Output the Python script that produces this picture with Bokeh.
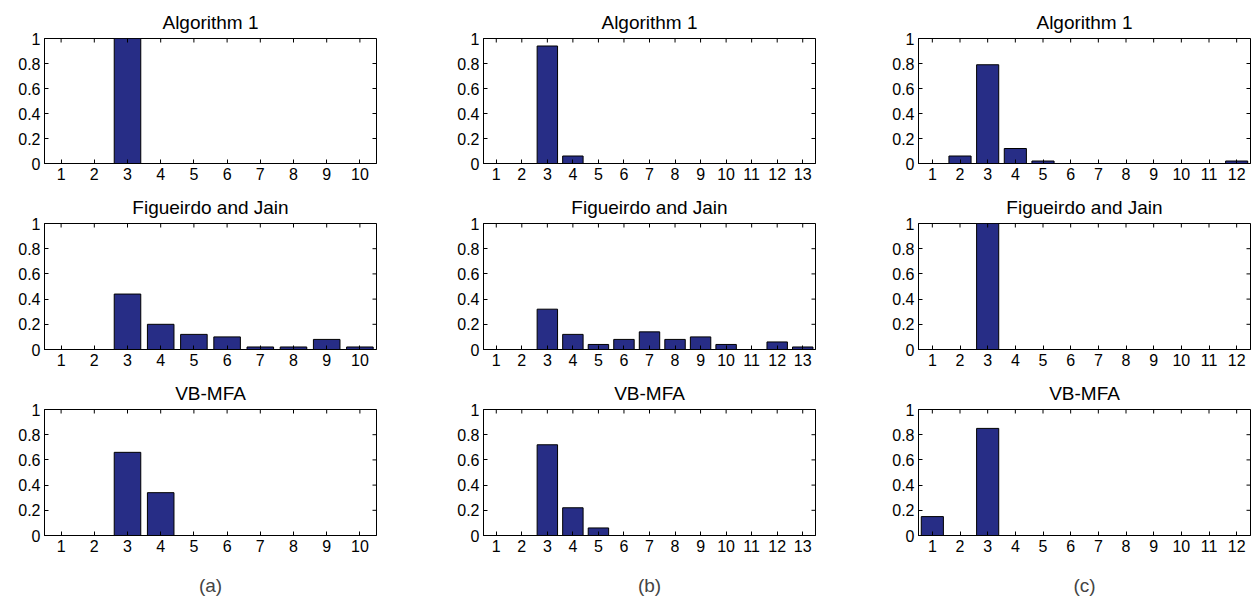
import math
from bokeh.plotting import figure
from bokeh.layouts import column, row
from bokeh.models import FixedTicker, LinearAxis, Range1d, ColumnDataSource
from bokeh.embed import file_html
from bokeh.resources import INLINE

# ---------------- data ----------------
titles = ["Algorithm 1", "Figueirdo and Jain", "VB-MFA"]
panel_labels = ["(a)", "(b)", "(c)"]

k_a = list(range(1, 11))
k_b = list(range(1, 14))
k_c = list(range(1, 13))

alg1_a = [0, 0, 1.00, 0, 0, 0, 0, 0, 0, 0]
fj_a = [0, 0, 0.44, 0.20, 0.12, 0.10, 0.02, 0.02, 0.08, 0.02]
vb_a = [0, 0, 0.66, 0.34, 0, 0, 0, 0, 0, 0]

alg1_b = [0, 0, 0.94, 0.06, 0, 0, 0, 0, 0, 0, 0, 0, 0]
fj_b = [0, 0, 0.32, 0.12, 0.04, 0.08, 0.14, 0.08, 0.10, 0.04, 0, 0.06, 0.02]
vb_b = [0, 0, 0.72, 0.22, 0.06, 0, 0, 0, 0, 0, 0, 0, 0]

alg1_c = [0, 0.06, 0.79, 0.12, 0.02, 0, 0, 0, 0, 0, 0, 0.02]
fj_c = [0, 0, 1.00, 0, 0, 0, 0, 0, 0, 0, 0, 0]
vb_c = [0.15, 0, 0.85, 0, 0, 0, 0, 0, 0, 0, 0, 0]

y_ticks = [0, 0.2, 0.4, 0.6, 0.8, 1]
y_tick_labels = ["0", "0.2", "0.4", "0.6", "0.8", "1"]

columns_data = [
    (k_a, [alg1_a, fj_a, vb_a]),
    (k_b, [alg1_b, fj_b, vb_b]),
    (k_c, [alg1_c, fj_c, vb_c]),
]

# ---------------- style / layout ----------------
FONT = "Liberation Sans"
BAR = "#272D86"
TICK_FS = "16px"
TITLE_FS = "19px"
LABEL_FS = "19px"

col_widths = [439, 435, 377]
col_right = [63, 59, 1]
row_heights = [185, 186, 233]
row_bottom = [22, 22, 69]
LEFT = 44
TOP = 38


def style_axis(ax, ticks):
    ax.ticker = FixedTicker(ticks=ticks)
    ax.major_tick_in = 4
    ax.major_tick_out = 0
    ax.minor_tick_line_color = None
    ax.axis_line_color = "black"
    ax.major_tick_line_color = "black"
    ax.major_label_text_font = FONT
    ax.major_label_text_font_size = TICK_FS
    ax.major_label_text_color = "black"
    ax.major_label_standoff = 4


rows = []
for ri in range(3):
    figs = []
    for ci in range(3):
        ks, series = columns_data[ci]
        vals = series[ri]
        n = len(ks)
        p = figure(
            width=col_widths[ci], height=row_heights[ri],
            x_range=Range1d(0.5, n + 0.5), y_range=Range1d(0, 1),
            output_backend="svg", toolbar_location=None,
            min_border_left=LEFT, min_border_right=col_right[ci],
            min_border_top=TOP, min_border_bottom=row_bottom[ri],
            x_axis_location=None, y_axis_location=None,
        )
        p.title.text = titles[ri]
        p.title.align = "center"
        p.title.text_font = FONT
        p.title.text_font_size = TITLE_FS
        p.title.text_font_style = "normal"
        p.title.text_color = "black"
        p.title.standoff = 11
        p.grid.visible = False
        p.outline_line_color = "black"
        p.outline_line_width = 1
        p.background_fill_color = "white"
        p.border_fill_color = "white"

        src = ColumnDataSource(dict(k=ks, v=vals))
        p.vbar(x="k", top="v", width=0.8, bottom=0, source=src,
               fill_color=BAR, line_color="black", line_width=1)

        # inward ticks on the top and right edges of the box (clipped to frame)
        p.scatter(x=ks, y=[1] * n, marker="dash", size=8, angle=math.pi / 2,
                  line_color="black", line_width=1)
        p.scatter(x=[n + 0.5] * len(y_ticks), y=y_ticks, marker="dash", size=8,
                  line_color="black", line_width=1)

        xb = LinearAxis()
        style_axis(xb, ks)
        if ri == 2:
            xb.axis_label = panel_labels[ci]
            xb.axis_label_text_font = FONT
            xb.axis_label_text_font_size = LABEL_FS
            xb.axis_label_text_font_style = "normal"
            xb.axis_label_standoff = 20
        p.add_layout(xb, "below")

        yl = LinearAxis()
        style_axis(yl, y_ticks)
        yl.major_label_overrides = {t: s for t, s in zip(y_ticks, y_tick_labels)}
        p.add_layout(yl, "left")

        figs.append(p)
    rows.append(row(*figs))

layout = column(*rows)
open("out.html", "w").write(file_html(layout, INLINE))
